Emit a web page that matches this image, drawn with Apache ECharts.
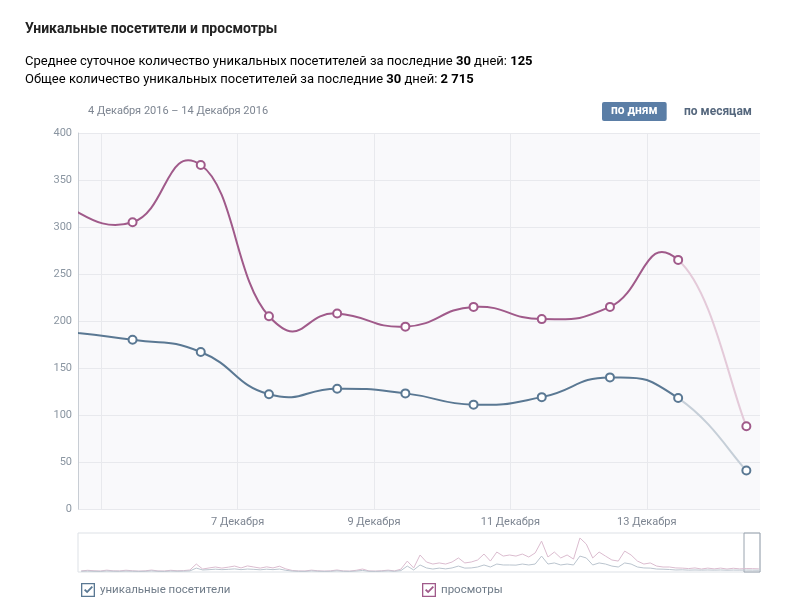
<!DOCTYPE html>
<html>
<head>
<meta charset="utf-8">
<script src="https://cdn.jsdelivr.net/npm/echarts@6/dist/echarts.min.js"></script>
<style>
html, body { margin: 0; padding: 0; background: #fff; }
#chart { width: 789px; height: 614px; }
</style>
</head>
<body>
<div id="chart"></div>
<script>
// days of December 2016 (fractional: points sit near midday)
var days = [4.46, 5.46, 6.46, 7.46, 8.46, 9.46, 10.46, 11.46, 12.46, 13.46, 14.46];
var visitors = [189, 180, 167, 122, 128, 123, 111, 119, 140, 118, 41];
var views = [322, 305, 366, 205, 208, 194, 215, 202, 215, 265, 88];
var tickDays = [5, 7, 9, 11, 13];
var labelDays = [7, 9, 11, 13];
var viewStart = 4.66, viewEnd = 14.66;

// overview (4-day samples, oldest first)
var ovStart = -410, ovStep = 4;
var ovViews = [70, 110, 80, 65, 120, 75, 70, 115, 80, 60, 75, 125, 70, 65, 110, 80, 90,
    130, 510, 190, 260, 320, 250, 310, 380, 260, 390, 320, 250, 330, 260, 370, 200, 100,
    70, 65, 120, 80, 60, 75, 130, 70, 60, 110, 190, 70, 60, 80, 120, 70, 180, 700, 260,
    1090, 640, 510, 580, 510, 640, 900, 580, 640, 770, 1150, 700, 1280, 1020, 1090, 1020,
    1150, 960, 1220, 1980, 960, 1280, 900, 1090, 830, 2180, 1790, 900, 1280, 1020, 770,
    700, 1340, 1090, 700, 510, 580, 380, 320, 320, 260, 250, 220, 260, 190, 250, 200, 250,
    190, 240, 200, 220, 215, 200];
var ovVisitors = [50, 60, 45, 40, 65, 50, 45, 60, 50, 40, 45, 70, 45, 40, 60, 50, 55,
    70, 250, 130, 150, 180, 150, 170, 200, 150, 190, 170, 140, 180, 150, 190, 110, 60,
    45, 40, 70, 50, 40, 45, 75, 45, 40, 60, 100, 45, 40, 50, 70, 45, 90, 380, 130,
    450, 260, 190, 250, 200, 260, 380, 250, 260, 320, 450, 320, 510, 450, 450, 440,
    510, 450, 510, 1020, 510, 580, 450, 510, 450, 1020, 900, 450, 580, 510, 380,
    320, 580, 510, 320, 260, 250, 190, 180, 160, 130, 140, 120, 130, 120, 130, 120, 130,
    115, 125, 120, 125, 120, 115];

var avgUnique = 125, totalUnique = 2715, periodDays = 30;
var visitorsName = 'уникальные посетители', viewsName = 'просмотры';

var visitorsColor = '#5a7893', visitorsTail = '#c6cfd8';
var viewsColor = '#a05a8a', viewsTail = '#e4cad9';
var font = 'Roboto';

function pairs(xs, ys) {
    return ys.map(function (v, i) { return [xs[i], v]; });
}
function ovPairs(ys) {
    return ys.map(function (v, i) { return [ovStart + i * ovStep, v]; });
}
function spaced(n) {
    return String(n).replace(/\B(?=(\d{3})+(?!\d))/g, ' ');
}

// spline through the points (tangent = (next - prev) * k), last segment drawn light
function splineRenderer(ys, color, tail) {
    return function (params, api) {
        if (params.dataIndex !== 0) return null;
        var pts = ys.map(function (v, i) { return api.coord([days[i], v]); });
        var n = pts.length, k = 0.25, children = [];
        for (var i = 0; i < n - 1; i++) {
            var p0 = pts[Math.max(i - 1, 0)], p1 = pts[i], p2 = pts[i + 1], p3 = pts[Math.min(i + 2, n - 1)];
            children.push({
                type: 'bezierCurve',
                shape: {
                    x1: p1[0], y1: p1[1], x2: p2[0], y2: p2[1],
                    cpx1: p1[0] + (p2[0] - p0[0]) * k, cpy1: p1[1] + (p2[1] - p0[1]) * k,
                    cpx2: p2[0] - (p3[0] - p1[0]) * k, cpy2: p2[1] - (p3[1] - p1[1]) * k
                },
                style: { stroke: i === n - 2 ? tail : color, lineWidth: 2, fill: 'none', lineCap: 'round' },
                silent: true
            });
        }
        return { type: 'group', children: children };
    };
}

var checkIcon = 'path://M0,0H16V16H0Z M1.5,1.5V14.5H14.5V1.5Z M3.4,8.2L4.9,6.8L7,8.9L12.2,3.4L13.7,4.8L7,11.8Z';

var chart = echarts.init(document.getElementById('chart'));
var option = {
    animation: false,
    title: [
        {
            text: 'Уникальные посетители и просмотры',
            left: 25, top: 22, padding: 0,
            textStyle: { fontFamily: font, fontSize: 14, fontWeight: 'bold', color: '#222' }
        },
        {
            text: 'Среднее суточное количество уникальных посетителей за последние {b|' + periodDays + '} дней: {b|' + avgUnique + '}\n' +
                'Общее количество уникальных посетителей за последние {b|' + periodDays + '} дней: {b|' + spaced(totalUnique) + '}',
            left: 25, top: 53, padding: 0,
            textStyle: {
                fontFamily: font, fontSize: 13, fontWeight: 'normal', color: '#000', lineHeight: 18,
                rich: { b: { fontFamily: font, fontSize: 13, fontWeight: 'bold', color: '#000', lineHeight: 18 } }
            }
        },
        {
            text: '4 Декабря 2016 – 14 Декабря 2016',
            left: 88, top: 106, padding: 0,
            textStyle: { fontFamily: font, fontSize: 11, fontWeight: 'normal', color: '#7d8591' }
        },
        {
            text: 'по дням',
            left: 602, top: 102,
            padding: [3, 9, 4, 9],
            backgroundColor: '#5b7ea6',
            borderRadius: 2,
            textStyle: { fontFamily: font, fontSize: 12, fontWeight: 'bold', color: '#fff' }
        },
        {
            text: 'по месяцам',
            left: 684, top: 106, padding: 0,
            textStyle: { fontFamily: font, fontSize: 12, fontWeight: 'bold', color: '#55677d' }
        }
    ],
    legend: [
        {
            left: 81, top: 583, padding: 0, icon: checkIcon, itemWidth: 14, itemHeight: 14,
            data: [{ name: visitorsName, itemStyle: { color: visitorsColor, borderWidth: 0 } }],
            textStyle: { fontFamily: font, fontSize: 11.5, color: '#6f7b88' }
        },
        {
            left: 422, top: 583, padding: 0, icon: checkIcon, itemWidth: 14, itemHeight: 14,
            data: [{ name: viewsName, itemStyle: { color: viewsColor, borderWidth: 0 } }],
            textStyle: { fontFamily: font, fontSize: 11.5, color: '#6f7b88' }
        }
    ],
    grid: [
        {
            left: 78, right: 29, top: 133, bottom: 105,
            show: true, backgroundColor: '#f9f9fb', borderWidth: 0
        },
        {
            left: 78, right: 29, top: 533, bottom: 42,
            show: true, backgroundColor: '#fff', borderColor: '#dde1e6', borderWidth: 1
        }
    ],
    xAxis: [
        {
            type: 'value', gridIndex: 0, min: viewStart, max: viewEnd,
            axisLine: { show: false },
            axisTick: { show: false, customValues: tickDays },
            splitLine: { show: true, lineStyle: { color: '#e8e9ed' } },
            axisLabel: {
                customValues: labelDays, margin: 8,
                fontFamily: font, fontSize: 11, color: '#7d8591',
                formatter: function (v) { return v + ' Декабря'; }
            }
        },
        {
            type: 'value', gridIndex: 1, min: ovStart - 2, max: viewEnd, show: false
        }
    ],
    yAxis: [
        {
            type: 'value', gridIndex: 0, min: 0, max: 400, interval: 50,
            axisLine: { show: true, lineStyle: { color: '#c8cdd4' } },
            axisTick: { show: false },
            splitLine: { lineStyle: { color: '#e8e9ed' } },
            axisLabel: { margin: 6, fontFamily: font, fontSize: 11, color: '#8a95a1' }
        },
        {
            type: 'value', gridIndex: 1, min: 0, max: 2500, show: false
        }
    ],
    series: [
        {
            name: visitorsName, type: 'custom', clip: true,
            data: pairs(days, visitors), encode: { x: 0, y: 1 },
            itemStyle: { color: visitorsColor },
            renderItem: splineRenderer(visitors, visitorsColor, visitorsTail),
            z: 2
        },
        {
            name: viewsName, type: 'custom', clip: true,
            data: pairs(days, views), encode: { x: 0, y: 1 },
            itemStyle: { color: viewsColor },
            renderItem: splineRenderer(views, viewsColor, viewsTail),
            z: 2
        },
        {
            name: visitorsName, type: 'line',
            data: pairs(days, visitors),
            symbol: 'emptyCircle', symbolSize: 8,
            itemStyle: { color: visitorsColor, borderWidth: 2 },
            lineStyle: { width: 0, opacity: 0 },
            z: 3
        },
        {
            name: viewsName, type: 'line',
            data: pairs(days, views),
            symbol: 'emptyCircle', symbolSize: 8,
            itemStyle: { color: viewsColor, borderWidth: 2 },
            lineStyle: { width: 0, opacity: 0 },
            z: 3
        },
        {
            name: viewsName, type: 'line', xAxisIndex: 1, yAxisIndex: 1,
            data: ovPairs(ovViews), showSymbol: false, silent: true,
            itemStyle: { color: viewsColor },
            lineStyle: { width: 1, color: '#dbbccf' },
            markArea: {
                silent: true,
                itemStyle: { color: 'rgba(0,0,0,0)', borderColor: '#9aa4af', borderWidth: 1 },
                data: [[{ xAxis: viewStart }, { xAxis: viewEnd }]]
            }
        },
        {
            name: visitorsName, type: 'line', xAxisIndex: 1, yAxisIndex: 1,
            data: ovPairs(ovVisitors), showSymbol: false, silent: true,
            itemStyle: { color: visitorsColor },
            lineStyle: { width: 1, color: '#bac4ce' }
        }
    ]
};
chart.setOption(option);
</script>
</body>
</html>
